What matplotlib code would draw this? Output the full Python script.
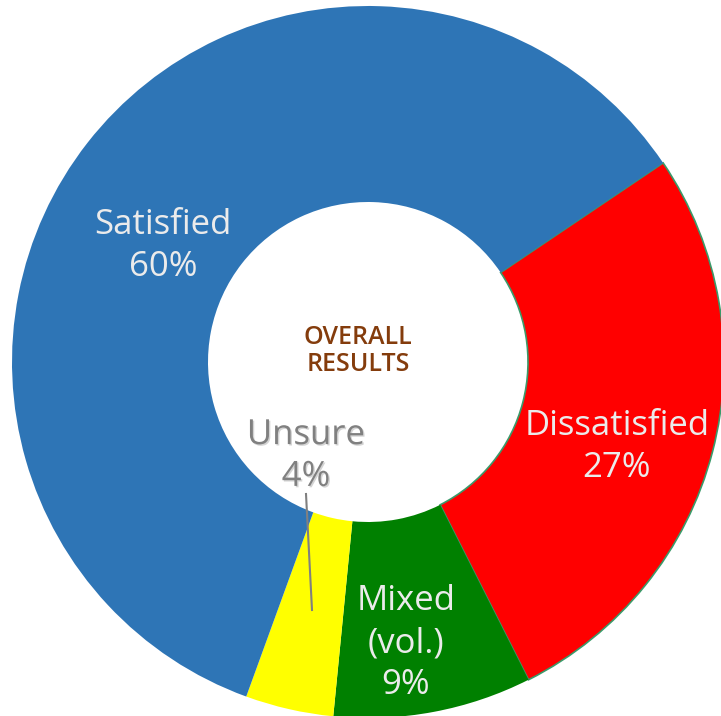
import matplotlib.pyplot as plt
import matplotlib.patheffects as pe

# data (clockwise from the top right)
labels = ['Dissatisfied', 'Mixed\n(vol.)', 'Unsure', 'Satisfied']
shares = [27, 9, 4, 60]
colors = ['#FF0000', '#008000', '#FFFF00', '#2E75B6']

plt.rcParams['font.family'] = ['Open Sans', 'DejaVu Sans']

fig = plt.figure(figsize=(7.21, 7.16), dpi=100)
ax = fig.add_axes([0, 0, 1, 1])

wedges, _ = ax.pie(shares, colors=colors, startangle=34, counterclock=False,
                   radius=356, center=(368, 354),
                   wedgeprops=dict(width=196, linewidth=0))
# thin outline on the red wedge
wedges[0].set_edgecolor('#3a9a6a')
wedges[0].set_linewidth(1.2)

ax.set_xlim(0, 721)
ax.set_ylim(0, 716)
ax.set_aspect('equal')
ax.axis('off')

lab_col = '#EBEBEB'
fs = 25
ls = 1.3
ax.text(163, 716 - 246, f'Satisfied\n{shares[3]}%', ha='center', va='center',
        color=lab_col, fontsize=fs, linespacing=ls)
ax.text(617, 716 - 447, f'Dissatisfied\n{shares[0]}%', ha='center', va='center',
        color=lab_col, fontsize=fs, linespacing=ls)
ax.text(406, 716 - 643, f'{labels[1]}\n{shares[1]}%', ha='center', va='center',
        color=lab_col, fontsize=fs, linespacing=ls)

# unsure label sits in the hole, with a leader line
ax.text(306, 716 - 456, f'Unsure\n{shares[2]}%', ha='center', va='center',
        color='#808080', fontsize=fs, linespacing=ls,
        path_effects=[pe.SimplePatchShadow(offset=(1, -1), shadow_rgbFace='#555555', alpha=0.25),
                      pe.Normal()])
ax.plot([306, 312], [716 - 494, 716 - 610], color='#808080', lw=1.5)

ax.text(358, 716 - 351, 'OVERALL\nRESULTS', ha='center', va='center',
        color='#843C0C', fontsize=18, fontweight='semibold', linespacing=1.1)

fig.savefig('out.png', dpi=100)
